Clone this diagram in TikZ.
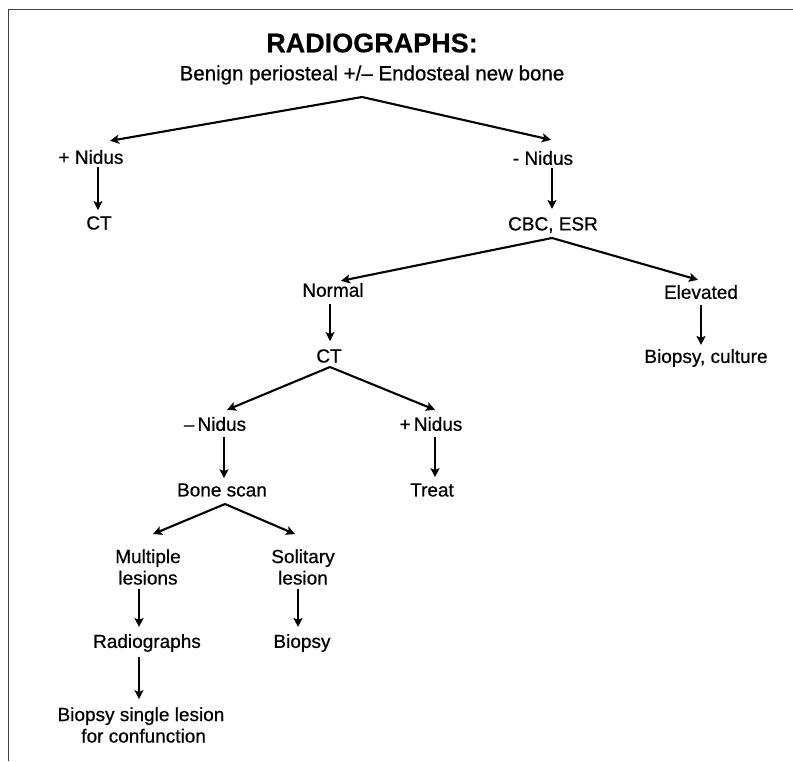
\documentclass[tikz,border=0pt]{standalone}
\usepackage{fontspec}
\setmainfont[FakeBold=0.6]{Liberation Sans}
\newfontfamily\titlefont[FakeBold=0.4]{Liberation Sans Bold}
\usetikzlibrary{arrows.meta}
\begin{document}
\begin{tikzpicture}[x=1pt,y=-1pt,
  lbl/.style={inner sep=0pt,font=\fontsize{19}{21.5}\selectfont,align=center},
  conn/.style={line width=2.1pt,-{Stealth[length=9pt,width=9pt,inset=2pt]}},
  frame/.style={line width=1pt,draw=black!75}]
\useasboundingbox (0,0) rectangle (793,761);
\draw[frame] (793,9) -- (8,9) -- (8,761);
% nodes
\node[inner sep=0pt,font=\titlefont\fontsize{27}{30}\selectfont] (title) at (372,43) {RADIOGRAPHS:};
\node[lbl,font=\fontsize{20.5}{23}\selectfont] (sub) at (372,75) {Benign periosteal +/– Endosteal new bone};
\coordinate (a1) at (362,97);
\node[lbl] (pnid) at (91,157) {+ Nidus};
\node[lbl] (mnid) at (543,158) {- Nidus};
\node[lbl] (ct1) at (99,223) {CT};
\node[lbl] (cbc) at (553,225) {CBC, ESR};
\coordinate (a2) at (552,238);
\node[lbl] (normal) at (333,290) {Normal};
\node[lbl] (elev) at (701,292) {Elevated};
\node[lbl] (ct2) at (329,356) {CT};
\node[lbl] (bcult) at (706,358) {Biopsy, culture};
\coordinate (a3) at (330,367);
\node[lbl] (mnid2) at (215,424) {–\,Nidus};
\node[lbl] (pnid2) at (431,424) {+\,Nidus};
\node[lbl] (bscan) at (222,490) {Bone scan};
\node[lbl] (treat) at (432,490) {Treat};
\coordinate (a4) at (225,504);
\node[lbl] (mult) at (148,567) {Multiple\\lesions};
\node[lbl] (solit) at (303,567) {Solitary\\lesion};
\node[lbl] (radio) at (147,643) {Radiographs};
\node[lbl] (biop) at (302,643) {Biopsy};
\node[lbl] (bsing) at (141,725) {Biopsy single lesion\\\phantom{f}for confunction};
% connectors
\draw[conn] (a1) -- ([xshift=19pt,yshift=9pt]pnid.north);
\draw[conn] (a1) -- ([xshift=8pt,yshift=11pt]mnid.north);
\draw[conn] ([xshift=7pt,yshift=-3pt]pnid.south) -- ([xshift=-1pt,yshift=6pt]ct1.north);
\draw[conn] ([xshift=9pt,yshift=-3pt]mnid.south) -- ([xshift=-1pt,yshift=8pt]cbc.north);
\draw[conn] (a2) -- ([xshift=8pt,yshift=2pt]normal.north);
\draw[conn] (a2) -- ([xshift=-3pt,yshift=5pt]elev.north);
\draw[conn] ([xshift=-3pt,yshift=-7pt]normal.south) -- ([xshift=1pt,yshift=8pt]ct2.north);
\draw[conn] ([xshift=0pt,yshift=-6pt]elev.south) -- ([xshift=-5pt,yshift=4pt]bcult.north);
\draw[conn] (a3) -- ([xshift=12pt,yshift=7pt]mnid2.north);
\draw[conn] (a3) -- ([xshift=4pt,yshift=7pt]pnid2.north);
\draw[conn] ([xshift=9pt,yshift=-6pt]mnid2.south) -- ([xshift=2pt,yshift=5pt]bscan.north);
\draw[conn] ([xshift=4pt,yshift=-6pt]pnid2.south) -- ([xshift=3pt,yshift=6pt]treat.north);
\draw[conn] (a4) -- ([xshift=5pt,yshift=15pt]mult.north);
\draw[conn] (a4) -- ([xshift=-8pt,yshift=15pt]solit.north);
\draw[conn] ([xshift=-9pt,yshift=-4pt]mult.south) -- ([xshift=-8pt,yshift=7pt]radio.north);
\draw[conn] ([xshift=-5pt,yshift=-4pt]solit.south) -- ([xshift=-4pt,yshift=7pt]biop.north);
\draw[conn] ([xshift=-8pt,yshift=-5pt]radio.south) -- ([xshift=-2pt,yshift=8pt]bsing.north);
\end{tikzpicture}
\end{document}
